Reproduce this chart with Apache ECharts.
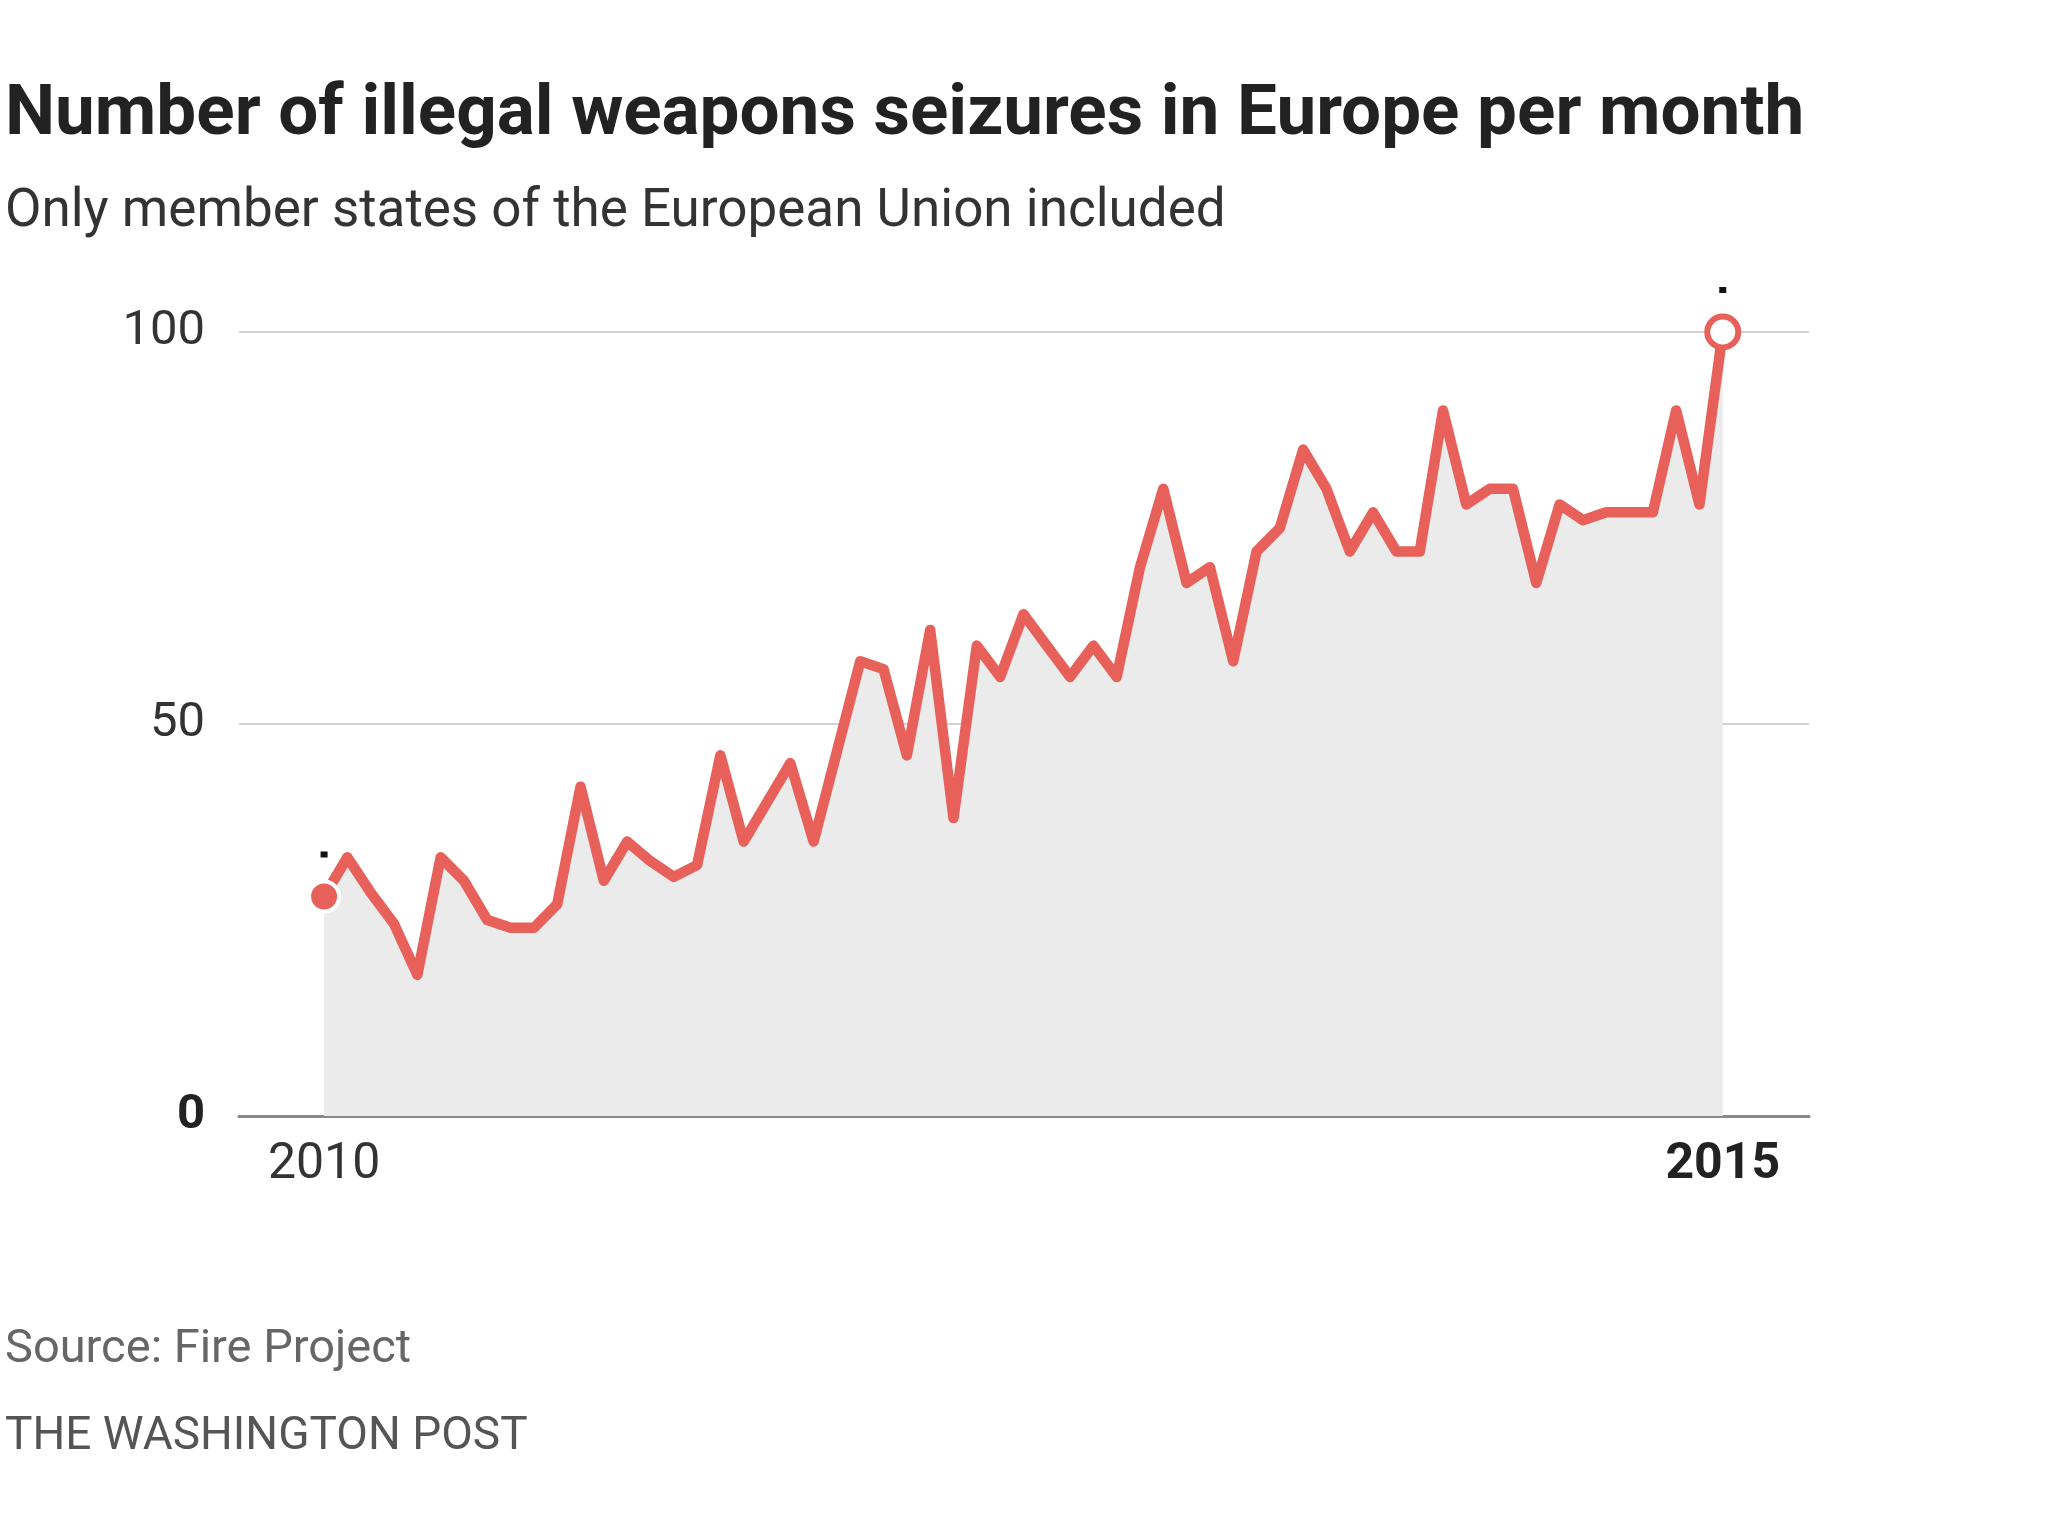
<!DOCTYPE html>
<html>
<head>
<meta charset="utf-8">
<script src="https://cdn.jsdelivr.net/npm/echarts@6/dist/echarts.min.js"></script>
<style>
  html, body { margin: 0; padding: 0; background: #fff; }
  #chart { width: 2048px; height: 1536px; }
</style>
</head>
<body>
<div id="chart"></div>
<script>
// Months from Jan 2010 to Jan 2015 (61 monthly points)
const years = ['2010', '2011', '2012', '2013', '2014', '2015'];
const monthNames = ['Jan','Feb','Mar','Apr','May','Jun','Jul','Aug','Sep','Oct','Nov','Dec'];
const months = [];
years.forEach(y => monthNames.forEach(m => { if (months.length < 61) months.push(m + ' ' + y); }));

// Number of illegal weapons seizures per month
const seizures = [
  28, 33, 28.5, 24.5, 18, 33, 30, 25, 24, 24, 27, 42,
  30, 35, 32.5, 30.5, 32, 46, 35, 40, 45, 35, 46.5, 58,
  57, 46, 62, 38, 60, 56, 64, 60, 56, 60, 56, 70,
  80, 68, 70, 58, 72, 75, 85, 80, 72, 77, 72, 72,
  90, 78, 80, 80, 68, 78, 76, 77, 77, 77, 90, 78,
  100
];

const yTicks = [0, 50, 100];
const xTickLabels = { 0: '2010', 60: '2015' };

const RED = '#e8605a';
const FONT = "'Roboto', 'Liberation Sans', sans-serif";

const lineData = seizures.map((v, i) => [months.indexOf(months[i]), v]);
const last = seizures.length - 1;

const chart = echarts.init(document.getElementById('chart'), null, { renderer: 'canvas' });
chart.setOption({
  animation: false,
  backgroundColor: '#ffffff',
  title: [
    {
      text: 'Number of illegal weapons seizures in Europe per month',
      left: 0, top: 76,
      textStyle: { fontFamily: FONT, fontWeight: 'bold', fontSize: 71, color: '#222' }
    },
    {
      text: 'Only member states of the European Union included',
      left: 0, top: 181,
      textStyle: { fontFamily: FONT, fontWeight: 'normal', fontSize: 53, color: '#333' }
    },
    {
      text: 'Source: Fire Project',
      left: 0, top: 1322,
      textStyle: { fontFamily: FONT, fontWeight: 'normal', fontSize: 47, color: '#666' }
    },
    {
      text: 'THE WASHINGTON POST',
      left: 0, top: 1409,
      textStyle: { fontFamily: FONT, fontWeight: 'normal', fontSize: 46, color: '#555' }
    }
  ],
  grid: { left: 239, right: 239, top: 332, bottom: 420, containLabel: false },
  xAxis: {
    type: 'value',
    min: -3.65,
    max: 63.7,
    axisLine: { show: true, onZero: true, lineStyle: { color: '#888', width: 3 } },
    axisTick: { show: false },
    splitLine: { show: false },
    axisLabel: {
      customValues: [0, 60],
      margin: 24,
      fontFamily: FONT,
      fontSize: 50,
      color: '#333',
      formatter: v => v === 60 ? '{b|' + xTickLabels[v] + '}' : (xTickLabels[v] || ''),
      rich: { b: { fontFamily: FONT, fontSize: 50, fontWeight: 'bold', color: '#222' } }
    }
  },
  yAxis: {
    type: 'value',
    min: yTicks[0],
    max: yTicks[yTicks.length - 1],
    interval: yTicks[1] - yTicks[0],
    axisLine: { show: false },
    axisTick: { show: false },
    splitLine: { show: true, lineStyle: { color: '#d2d2d2', width: 2 } },
    axisLabel: {
      margin: 34,
      fontFamily: FONT,
      fontSize: 49,
      color: '#333',
      formatter: v => v === 0 ? '{b|0}' : String(v),
      rich: { b: { fontFamily: FONT, fontSize: 49, fontWeight: 'bold', color: '#222' } }
    }
  },
  series: [
    {
      type: 'line',
      data: lineData,
      showSymbol: false,
      clip: false,
      lineStyle: { color: RED, width: 10.5, join: 'round', cap: 'round' },
      areaStyle: { color: '#ebebeb', opacity: 1, origin: 'start' },
      z: 3
    },
    {
      type: 'scatter',
      data: [lineData[0]],
      symbol: 'circle',
      symbolSize: 30,
      itemStyle: { color: RED, borderColor: '#fff', borderWidth: 4, opacity: 1 },
      clip: false,
      z: 5
    },
    {
      type: 'scatter',
      data: [lineData[last]],
      symbol: 'circle',
      symbolSize: 31,
      itemStyle: { color: '#fff', borderColor: RED, borderWidth: 6, opacity: 1 },
      clip: false,
      z: 5
    },
    {
      type: 'scatter',
      data: [lineData[0], lineData[last]],
      symbol: 'rect',
      symbolSize: [7, 6],
      symbolOffset: [0, -42],
      itemStyle: { color: '#111', opacity: 1 },
      clip: false,
      silent: true,
      z: 5
    }
  ]
});
</script>
</body>
</html>
